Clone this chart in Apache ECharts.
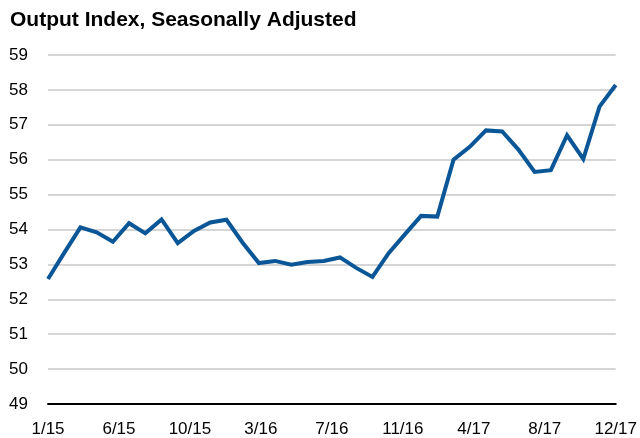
<!DOCTYPE html>
<html>
<head>
<meta charset="utf-8">
<script src="https://cdn.jsdelivr.net/npm/echarts@6/dist/echarts.min.js"></script>
<style>
html,body{margin:0;padding:0;background:#fff;}
#chart{width:640px;height:438px;}
</style>
</head>
<body>
<div id="chart"></div>
<script>
var titleText = 'Output Index, Seasonally Adjusted';
var months = ['1/15','2/15','3/15','4/15','5/15','6/15','7/15','8/15','9/15','10/15','11/15','12/15',
              '1/16','2/16','3/16','4/16','5/16','6/16','7/16','8/16','9/16','10/16','11/16','12/16',
              '1/17','2/17','3/17','4/17','5/17','6/17','7/17','8/17','9/17','10/17','11/17','12/17'];
var outputIndex = [52.58, 53.33, 54.06, 53.92, 53.65, 54.18, 53.89, 54.29, 53.61, 53.96, 54.20, 54.28,
                   53.62, 53.04, 53.10, 52.99, 53.07, 53.10, 53.20, 52.90, 52.64, 53.32, 53.86, 54.39,
                   54.37, 56.00, 56.37, 56.84, 56.81, 56.29, 55.65, 55.70, 56.70, 56.02, 57.52, 58.14];
var xTickLabels = ['1/15','6/15','10/15','3/16','7/16','11/16','4/17','8/17','12/17'];
var yMin = 49, yMax = 59, yStep = 1;

var seriesData = outputIndex.map(function(v, i){ return [i, v]; });
var xStep = (months.length - 1) / (xTickLabels.length - 1);

var chart = echarts.init(document.getElementById('chart'));
chart.setOption({
  animation: false,
  backgroundColor: '#ffffff',
  title: {
    text: titleText,
    left: 5,
    top: 5,
    textStyle: {fontFamily: 'Liberation Sans, Arial, sans-serif', fontSize: 21, fontWeight: 'bold', color: '#000'}
  },
  grid: {left: 48, right: 23, top: 55, bottom: 32, containLabel: false},
  xAxis: {
    type: 'value',
    min: 0,
    max: months.length - 1,
    interval: xStep,
    splitLine: {show: false},
    axisLine: {show: true, lineStyle: {color: '#000', width: 2}},
    axisTick: {show: false},
    axisLabel: {
      showMinLabel: true,
      showMaxLabel: true,
      margin: 17,
      fontFamily: 'Liberation Sans, Arial, sans-serif',
      fontSize: 17,
      color: '#000',
      formatter: function(v){ var k = Math.round(v / xStep); return xTickLabels[k] || ''; }
    }
  },
  yAxis: {
    type: 'value',
    min: yMin,
    max: yMax,
    interval: yStep,
    axisLine: {show: false},
    axisTick: {show: false},
    splitLine: {show: true, lineStyle: {color: '#c8c8c8', width: 1.5}},
    axisLabel: {
      margin: 20,
      fontFamily: 'Liberation Sans, Arial, sans-serif',
      fontSize: 17,
      color: '#000'
    }
  },
  series: [{
    type: 'line',
    data: seriesData,
    showSymbol: false,
    symbol: 'none',
    lineStyle: {color: '#0a5697', width: 4, join: 'miter'},
    z: 5
  }]
});
</script>
</body>
</html>
